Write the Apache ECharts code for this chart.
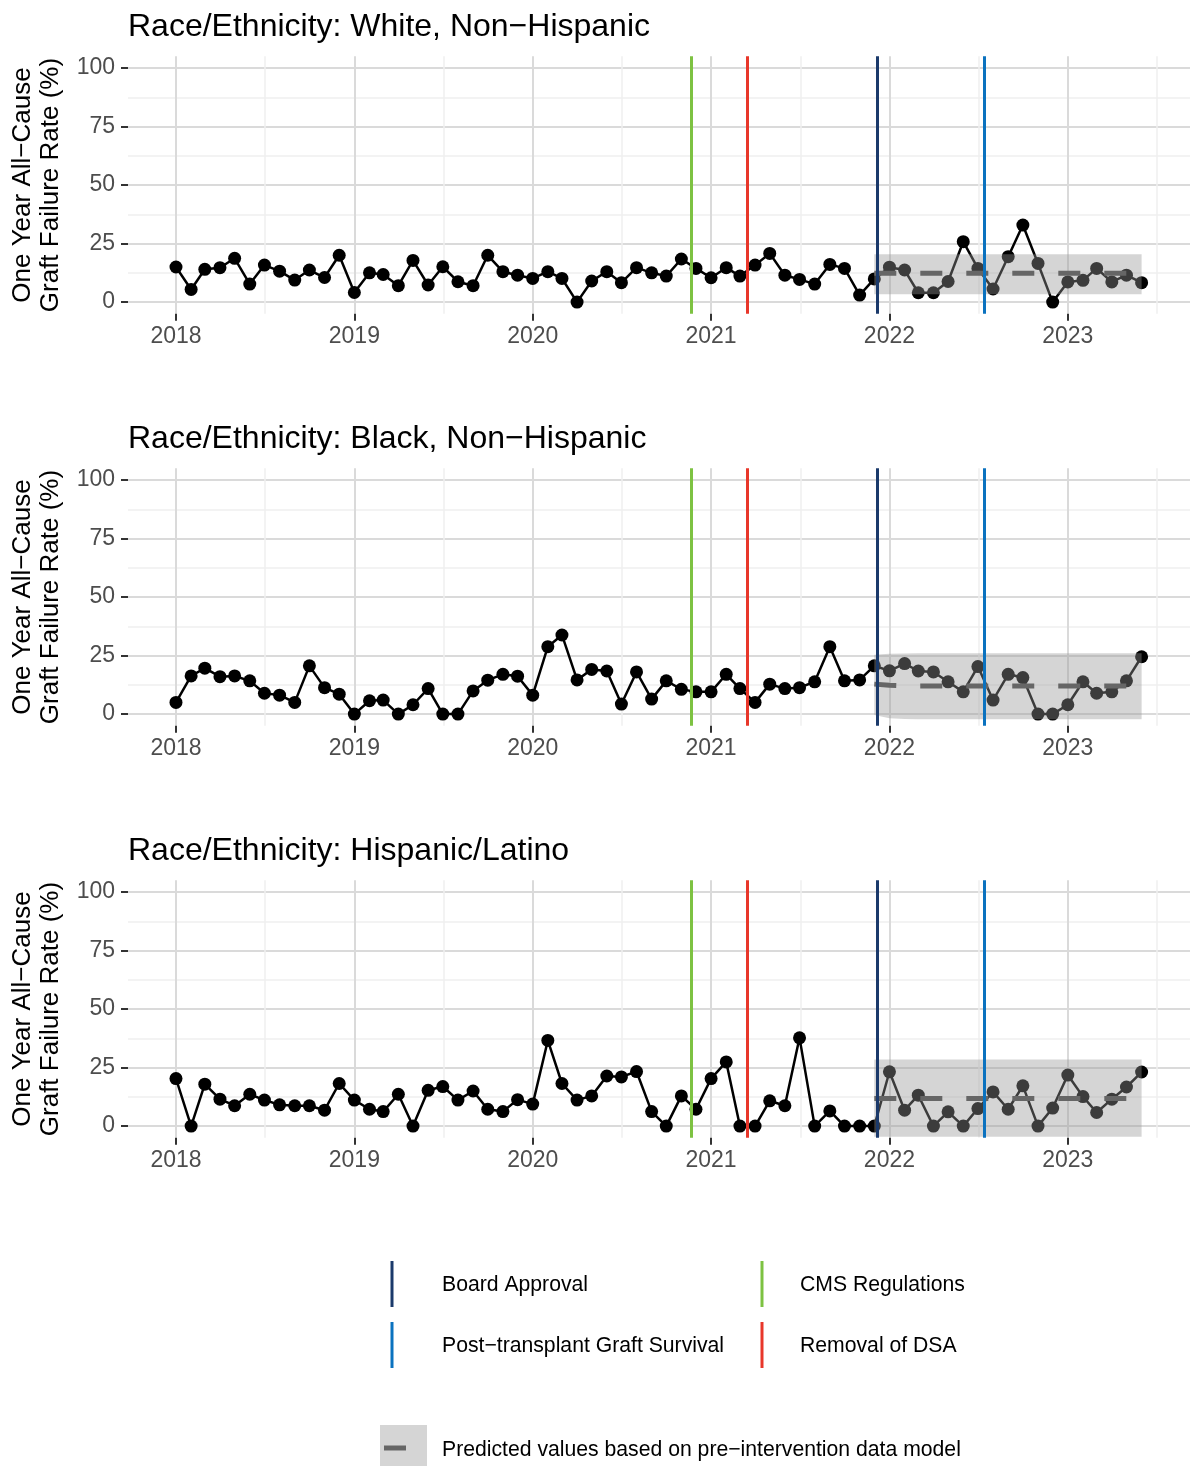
<!DOCTYPE html>
<html>
<head>
<meta charset="utf-8">
<script src="https://cdn.jsdelivr.net/npm/echarts@6/dist/echarts.min.js"></script>
<style>html,body{margin:0;padding:0;background:#fff}#chart{width:1190px;height:1466px}</style>
</head>
<body>
<div id="chart"></div>
<script>
// ---------------- DATA ----------------
const months = [
 '2018-01','2018-02','2018-03','2018-04','2018-05','2018-06','2018-07','2018-08','2018-09','2018-10','2018-11','2018-12',
 '2019-01','2019-02','2019-03','2019-04','2019-05','2019-06','2019-07','2019-08','2019-09','2019-10','2019-11','2019-12',
 '2020-01','2020-02','2020-03','2020-04','2020-05','2020-06','2020-07','2020-08','2020-09','2020-10','2020-11','2020-12',
 '2021-01','2021-02','2021-03','2021-04','2021-05','2021-06','2021-07','2021-08','2021-09','2021-10','2021-11','2021-12',
 '2022-01','2022-02','2022-03','2022-04','2022-05','2022-06','2022-07','2022-08','2022-09','2022-10','2022-11','2022-12',
 '2023-01','2023-02','2023-03','2023-04','2023-05','2023-06'
];
const whiteValues = [
 15, 5.4, 14, 14.7, 18.7, 7.7, 15.8, 13.2, 9.4, 13.7, 10.5, 20,
 4.1, 12.5, 11.8, 7, 17.8, 7.3, 15.1, 8.7, 7, 20, 13, 11.5,
 10.1, 13, 10.1, 0, 9, 13, 8.3, 14.7, 12.5, 11.1, 18.4, 14.4,
 10.4, 14.7, 11.1, 15.8, 20.8, 11.5, 9.7, 7.7, 16.1, 14.4, 3, 9.9,
 14.9, 13.7, 4, 4, 8.8, 25.8, 14.4, 5.6, 19.4, 32.9, 16.5, 0,
 8.6, 9.3, 14.4, 8.6, 11.5, 8.3
];
const blackValues = [
 5, 16.3, 19.6, 16, 16.3, 14.2, 8.9, 8.1, 5, 20.6, 11.3, 8.5,
 0, 5.7, 6, 0, 4, 10.9, 0, 0, 9.9, 14.5, 17, 16.2,
 8.1, 28.8, 33.8, 14.6, 19.1, 18.4, 4.3, 18, 6.4, 14.2, 10.6, 9.5,
 9.5, 17, 10.9, 5, 12.8, 10.9, 11.3, 13.8, 28.8, 14.2, 14.6, 20.6,
 18.5, 21.6, 18.4, 18, 13.8, 9.5, 20.3, 6, 17, 15.6, 0, 0,
 4, 13.8, 8.9, 9.5, 14.2, 24.5
];
const hispanicValues = [
 20.3, 0, 17.9, 11.5, 8.7, 13.6, 11.1, 9.1, 8.7, 8.7, 6.8, 18.2,
 11.1, 7.2, 6.2, 13.6, 0, 15.3, 16.9, 11.1, 15, 7.2, 6.2, 11.3,
 9.4, 36.6, 18.2, 11.1, 12.9, 21.4, 21, 23.3, 6.2, 0, 12.9, 7.2,
 20.3, 27.4, 0, 0, 10.8, 8.7, 37.7, 0, 6.5, 0, 0, 0,
 23.2, 6.8, 13.2, 0, 6.1, 0, 7.5, 14.6, 7.2, 17.2, 0, 7.7,
 21.8, 12.6, 5.8, 11.5, 16.7, 23.1
];

// predicted values (post-intervention period)
const predMonths = [
 '2021-12','2022-01','2022-02','2022-03','2022-04','2022-05','2022-06','2022-07','2022-08','2022-09',
 '2022-10','2022-11','2022-12','2023-01','2023-02','2023-03','2023-04','2023-05','2023-06'
];
const whiteFit   = [12.3,12.3,12.3,12.3,12.3,12.3,12.3,12.3,12.3,12.3,12.3,12.3,12.3,12.3,12.3,12.3,12.3,12.3,12.3];
const whiteUpper = [20.4,20.4,20.4,20.4,20.4,20.4,20.4,20.4,20.4,20.4,20.4,20.4,20.4,20.4,20.4,20.4,20.4,20.4,20.4];
const whiteLower = [3.3,3.3,3.3,3.3,3.3,3.3,3.3,3.3,3.3,3.3,3.3,3.3,3.3,3.3,3.3,3.3,3.3,3.3,3.3];
const blackFit   = [12.8,12.3,12.1,12.0,12.0,12.0,12.0,12.0,12.0,12.0,12.0,12.0,12.0,12.0,12.0,12.0,12.0,12.0,12.0];
const blackUpper = [25.3,25.8,25.9,26,26,26,26,26,26,26,26,26,26,26,26,26,26,26,26];
const blackLower = [-0.4,-1.8,-2.1,-2.2,-2.2,-2.2,-2.2,-2.2,-2.2,-2.2,-2.2,-2.2,-2.2,-2.2,-2.2,-2.2,-2.2,-2.2,-2.2];
const hispFit    = [11.8,11.8,11.8,11.8,11.8,11.8,11.8,11.8,11.8,11.8,11.8,11.8,11.8,11.8,11.8,11.8,11.8,11.8,11.8];
const hispUpper  = [28.4,28.4,28.4,28.4,28.4,28.4,28.4,28.4,28.4,28.4,28.4,28.4,28.4,28.4,28.4,28.4,28.4,28.4,28.4];
const hispLower  = [-4.6,-4.6,-4.6,-4.6,-4.6,-4.6,-4.6,-4.6,-4.6,-4.6,-4.6,-4.6,-4.6,-4.6,-4.6,-4.6,-4.6,-4.6,-4.6];

const panelTitles = [
 'Race/Ethnicity: White, Non\u2212Hispanic',
 'Race/Ethnicity: Black, Non\u2212Hispanic',
 'Race/Ethnicity: Hispanic/Latino'
];
const yAxisTitle = 'One Year All\u2212Cause\nGraft Failure Rate (%)';

// interventions (in legend order)
const interventionNames  = ['Board Approval','CMS Regulations','Post\u2212transplant Graft Survival','Removal of DSA'];
const interventionDates  = ['2021-12-06','2020-11-21','2022-07-14','2021-03-16'];
const interventionColors = ['#1B3A6B','#7DC242','#0B72BF','#E8372A'];
const predictedLabel = 'Predicted values based on pre\u2212intervention data model';

// axis ticks
const yTickValues  = [0, 25, 50, 75, 100];
const yMinorValues = [12.5, 37.5, 62.5, 87.5];
const xTickYears   = [2018, 2019, 2020, 2021, 2022, 2023];
const xMinorYears  = [2018.5, 2019.5, 2020.5, 2021.5, 2022.5, 2023.5];

// ---------------- LAYOUT / STYLE ----------------
const FONT = '"Liberation Sans", Arial, Helvetica, sans-serif';
const XMIN = 2017.731, XMAX = 2023.685;
const GRID_LEFT = 128, GRID_W = 1063.4, PANEL_H = 257.5;
const PANEL_TOPS = [56.3, 468.3, 880.3];
const MAJOR_GRID = '#DADADA', MINOR_GRID = '#EFEFEF';
const BAND_COLOR = 'rgba(150,150,150,0.4)';
const FIT_COLOR = '#666666';
const AXIS_FONT = 23;

function toX(s) {
  const p = s.split('-').map(Number);
  const y = p[0], m = p[1] || 1, d = p[2] || 1;
  const start = Date.UTC(y, 0, 1), end = Date.UTC(y + 1, 0, 1);
  return y + (Date.UTC(y, m - 1, d) - start) / (end - start);
}

const panels = [
  {values: whiteValues, fit: whiteFit, upper: whiteUpper, lower: whiteLower},
  {values: blackValues, fit: blackFit, upper: blackUpper, lower: blackLower},
  {values: hispanicValues, fit: hispFit, upper: hispUpper, lower: hispLower}
];

const grid = [], xAxis = [], yAxis = [], series = [], graphic = [];

panels.forEach((p, i) => {
  grid.push({left: GRID_LEFT, top: PANEL_TOPS[i], width: GRID_W, height: PANEL_H});
  // minor x (index 2i), major x (2i+1)
  xAxis.push({
    type: 'value', gridIndex: i, min: XMIN, max: XMAX, position: 'top',
    axisLine: {show: false}, axisTick: {show: false, customValues: xMinorYears},
    axisLabel: {show: false, customValues: xMinorYears},
    splitLine: {show: true, lineStyle: {color: MINOR_GRID, width: 1.5}}
  });
  xAxis.push({
    type: 'value', gridIndex: i, min: XMIN, max: XMAX, position: 'bottom',
    axisLine: {show: false, onZero: false},
    axisTick: {show: true, customValues: xTickYears, length: 7, lineStyle: {color: '#333333', width: 2}},
    axisLabel: {customValues: xTickYears, formatter: v => String(Math.round(v)),
      fontSize: AXIS_FONT, color: '#4D4D4D', fontFamily: FONT, margin: 11},
    splitLine: {show: true, lineStyle: {color: MAJOR_GRID, width: 2}}
  });
  yAxis.push({
    type: 'value', gridIndex: i, min: -5, max: 105, position: 'right',
    axisLine: {show: false}, axisTick: {show: false, customValues: yMinorValues},
    axisLabel: {show: false, customValues: yMinorValues},
    splitLine: {show: true, lineStyle: {color: MINOR_GRID, width: 1.5}}
  });
  yAxis.push({
    type: 'value', gridIndex: i, min: -5, max: 105, position: 'left',
    axisLine: {show: false, onZero: false},
    axisTick: {show: true, customValues: yTickValues, length: 7, lineStyle: {color: '#333333', width: 2}},
    axisLabel: {customValues: yTickValues, fontSize: AXIS_FONT, color: '#4D4D4D', fontFamily: FONT, margin: 13},
    splitLine: {show: true, lineStyle: {color: MAJOR_GRID, width: 2}}
  });
  const xi = 2 * i + 1, yi = 2 * i + 1;

  // observed series
  series.push({
    type: 'line', xAxisIndex: xi, yAxisIndex: yi, z: 2, silent: true, animation: false,
    data: months.map((m, k) => [toX(m), p.values[k]]),
    symbol: 'circle', symbolSize: 13, showSymbol: true,
    lineStyle: {color: '#000', width: 2.5}, itemStyle: {color: '#000'}
  });
  // prediction interval ribbon
  const bandData = predMonths.map((m, k) => [toX(m), p.upper[k], p.lower[k]]);
  series.push({
    type: 'custom', xAxisIndex: xi, yAxisIndex: yi, z: 3, silent: true, animation: false,
    data: bandData,
    encode: {x: 0, y: [1, 2]},
    renderItem: function (params, api) {
      if (params.dataIndex !== 0) return null;
      const top = bandData.map(d => api.coord([d[0], d[1]]));
      const bot = bandData.map(d => api.coord([d[0], d[2]])).reverse();
      return {type: 'polygon', shape: {points: top.concat(bot)}, style: {fill: BAND_COLOR, stroke: null}};
    }
  });
  // predicted fit (dashed) + intervention lines
  series.push({
    type: 'line', xAxisIndex: xi, yAxisIndex: yi, z: 4, silent: true, animation: false,
    symbol: 'none',
    data: predMonths.map((m, k) => [toX(m), p.fit[k]]),
    lineStyle: {color: FIT_COLOR, width: 5, type: [22, 24], cap: 'butt'},
    markLine: {
      silent: true, animation: false, symbol: ['none', 'none'], label: {show: false},
      data: interventionDates.map((d, k) => ({
        xAxis: toX(d), lineStyle: {color: interventionColors[k], width: 3, type: 'solid'}
      }))
    }
  });

  // panel title
  graphic.push({
    type: 'text', x: GRID_LEFT, y: PANEL_TOPS[i] - 29.5, silent: true,
    style: {text: panelTitles[i], font: '32px ' + FONT, fill: '#000',
      align: 'left', verticalAlign: 'middle', textAlign: 'left', textVerticalAlign: 'middle'}
  });
  // y axis title
  graphic.push({
    type: 'text', x: 37, y: PANEL_TOPS[i] + PANEL_H / 2, rotation: Math.PI / 2, silent: true,
    style: {text: yAxisTitle, font: '26px ' + FONT, fill: '#000', lineHeight: 28,
      align: 'center', verticalAlign: 'middle', textAlign: 'center', textVerticalAlign: 'middle'}
  });
});

// ---------------- LEGEND ----------------
const keyX = [392, 762], labelX = [442, 800], rowY = [1284, 1345];
interventionNames.forEach((name, k) => {
  const c = k % 2, r = Math.floor(k / 2);
  graphic.push({
    type: 'line', silent: true,
    shape: {x1: keyX[c], y1: rowY[r] - 23, x2: keyX[c], y2: rowY[r] + 23},
    style: {stroke: interventionColors[k], lineWidth: 3}
  });
  graphic.push({
    type: 'text', x: labelX[c], y: rowY[r] + 1.5, silent: true,
    style: {text: name, font: '21.2px ' + FONT, fill: '#000',
      align: 'left', verticalAlign: 'middle', textAlign: 'left', textVerticalAlign: 'middle'}
  });
});
graphic.push({
  type: 'rect', silent: true, shape: {x: 380, y: 1425, width: 47, height: 47},
  style: {fill: BAND_COLOR}
});
graphic.push({
  type: 'line', silent: true, shape: {x1: 384, y1: 1448, x2: 406, y2: 1448},
  style: {stroke: FIT_COLOR, lineWidth: 5}
});
graphic.push({
  type: 'text', x: 442, y: 1450, silent: true,
  style: {text: predictedLabel, font: '21.2px ' + FONT, fill: '#000',
    align: 'left', verticalAlign: 'middle', textAlign: 'left', textVerticalAlign: 'middle'}
});

const chart = echarts.init(document.getElementById('chart'), null, {renderer: 'canvas', width: 1190, height: 1466});
chart.setOption({
  backgroundColor: '#fff',
  animation: false,
  textStyle: {fontFamily: FONT},
  grid, xAxis, yAxis, series, graphic
});
</script>
</body>
</html>
